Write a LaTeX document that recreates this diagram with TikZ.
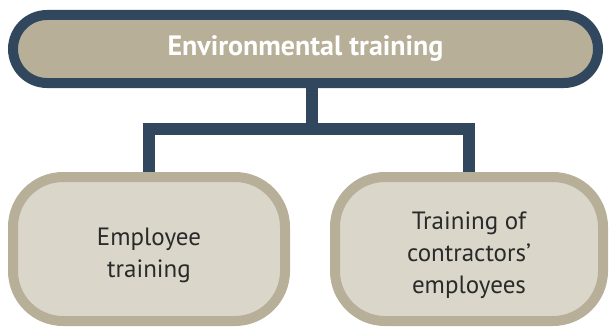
\documentclass[tikz,border=0pt]{standalone}
\usepackage{fontspec}
\setmainfont{PT Sans}
\usetikzlibrary{backgrounds}
\definecolor{navy}{HTML}{30475E}
\definecolor{tan}{HTML}{B7AF98}
\definecolor{pale}{HTML}{DAD6CA}
\definecolor{txt}{HTML}{2A2A2A}
\begin{document}
\begin{tikzpicture}[x=1pt,y=-1pt,
  topbox/.style={draw=navy,line width=10pt,fill=tan,rounded corners=34pt,minimum width=585pt,minimum height=68pt,inner sep=0pt,text=white,font=\bfseries\fontsize{28}{30}\selectfont},
  subbox/.style={draw=tan,line width=10pt,fill=pale,rounded corners=50pt,minimum height=144pt,inner sep=0pt,text=txt,align=center,font=\fontsize{25}{32}\selectfont},
  link/.style={draw=navy,line width=12pt}]
\useasboundingbox (0,0) rectangle (610,329);
\node[topbox] (top) at (305.5,49) {Environmental training};
\node[subbox,minimum width=272pt] (emp) at (149,249) {\rule{0pt}{30pt}Employee\\training};
\node[subbox,minimum width=268pt] (con) at (469,249) {\rule{0pt}{30pt}Training of\\contractors’\\employees};
\coordinate (stem) at (312,83);
\coordinate (mid) at (312,129);
\begin{scope}[on background layer]
\draw[link] (stem) -- (mid) -| (emp.north);
\draw[link] (mid) -| (con.north);
\end{scope}
\end{tikzpicture}
\end{document}
